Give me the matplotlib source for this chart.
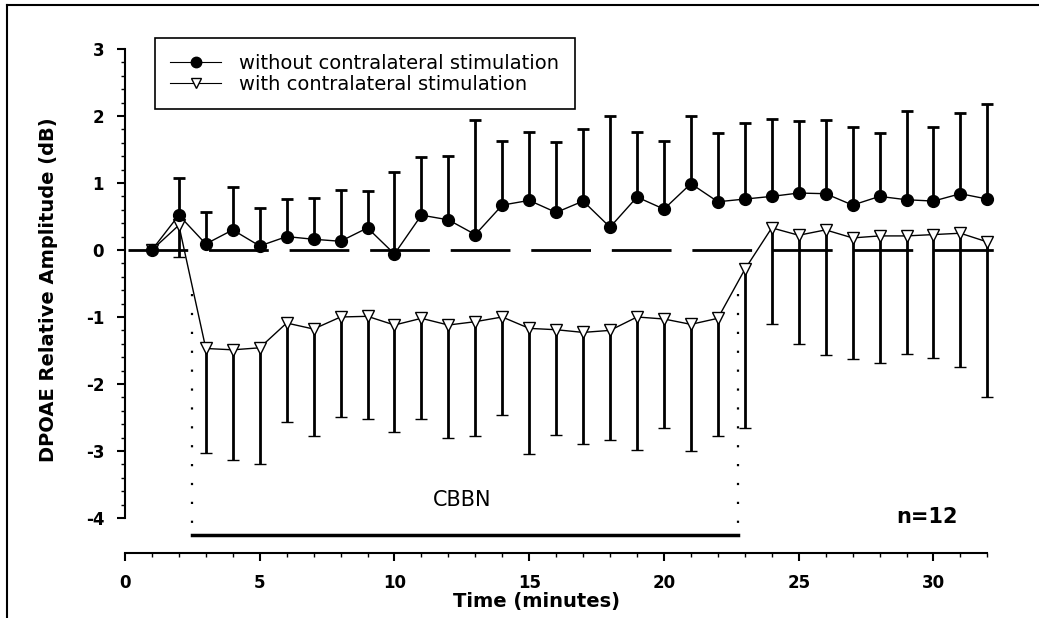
import numpy as np
import matplotlib.pyplot as plt
from matplotlib.lines import Line2D
from matplotlib.ticker import FixedLocator

plt.rcParams['axes.unicode_minus'] = False

# time points (minutes)
minutes = np.arange(1, 33)

# without contralateral stimulation: mean and top of error bar (dB)
amp_without = [0.00, 0.52, 0.09, 0.30, 0.06, 0.20, 0.16, 0.13, 0.33, -0.06,
               0.52, 0.45, 0.23, 0.67, 0.74, 0.56, 0.73, 0.34, 0.79, 0.61,
               0.99, 0.72, 0.76, 0.80, 0.85, 0.84, 0.67, 0.80, 0.75, 0.73,
               0.84, 0.76]
top_without = [0.00, 1.08, 0.56, 0.94, 0.63, 0.76, 0.78, 0.90, 0.88, 1.17,
               1.39, 1.41, 1.94, 1.62, 1.76, 1.61, 1.80, 2.00, 1.76, 1.62,
               2.00, 1.75, 1.90, 1.95, 1.93, 1.94, 1.83, 1.75, 2.08, 1.84,
               2.05, 2.18]

# with contralateral stimulation: mean and bottom of error bar (dB)
amp_with = [0.00, 0.37, -1.47, -1.49, -1.46, -1.09, -1.18, -1.00, -0.99, -1.12,
            -1.02, -1.12, -1.07, -1.00, -1.17, -1.19, -1.23, -1.20, -1.00, -1.03,
            -1.11, -1.02, -0.29, 0.33, 0.22, 0.30, 0.18, 0.21, 0.21, 0.23,
            0.25, 0.12]
bottom_with = [0.00, -0.10, -3.03, -3.13, -3.19, -2.57, -2.77, -2.49, -2.53, -2.72,
               -2.52, -2.81, -2.78, -2.46, -3.05, -2.76, -2.90, -2.83, -2.99, -2.66,
               -3.00, -2.77, -2.65, -1.11, -1.40, -1.56, -1.63, -1.68, -1.55, -1.61,
               -1.75, -2.19]

labels = ['without contralateral stimulation', 'with contralateral stimulation']

# CBBN noise period
stim_start, stim_end = 2.5, 22.75
stim_level = -4.25

fig = plt.figure(figsize=(10.39, 6.18), dpi=100)
ax = fig.add_axes([0.1073, 0.0751, 0.8819, 0.889])
ax.set_xlim(-0.5, 33.5)
ax.set_ylim(-4.8, 3.4)

# zero reference line
ax.plot([0.1, 32.8], [0, 0], color='black', lw=2, dashes=(21.5, 7.5), zorder=1)

aw = np.array(amp_without)
eb1 = ax.errorbar(minutes, aw, yerr=[np.zeros_like(aw), np.array(top_without) - aw],
                  fmt='-o', color='black', ms=8.5, lw=1, elinewidth=2,
                  capsize=4.3, capthick=2, zorder=3)
eb1[1][0].set_visible(False)

ab = np.array(amp_with)
eb2 = ax.errorbar(minutes, ab, yerr=[ab - np.array(bottom_with), np.zeros_like(ab)],
                  fmt='-v', color='black', mfc='white', mec='black', mew=1,
                  ms=8, lw=1, elinewidth=2, capsize=4.3, capthick=2, zorder=2)
eb2[1][1].set_visible(False)

# stimulus period markers
for xs in (stim_start, stim_end):
    ax.plot([xs, xs], [-0.65, stim_level], color='black', lw=1.6,
            dashes=(1, 7.5), zorder=1)
ax.plot([stim_start, stim_end], [stim_level, stim_level], color='black', lw=2.5)
ax.text(12.5, -3.73, 'CBBN', fontsize=15, ha='center', va='center')
ax.text(29.75, -3.98, 'n=12', fontsize=15, fontweight='bold', ha='center', va='center')

h1 = Line2D([], [], color='black', lw=0.8, marker='o', ms=7.5)
h2 = Line2D([], [], color='black', lw=0.8, marker='v', ms=7, mfc='white', mec='black')
leg = ax.legend([h1, h2], labels, loc='upper left', bbox_to_anchor=(1.11, 3.16),
                bbox_transform=ax.transData, fancybox=False, edgecolor='black',
                framealpha=1, fontsize=14, handlelength=2.6, handletextpad=0.95,
                borderpad=0.8, labelspacing=0.1, borderaxespad=0)
leg.get_frame().set_linewidth(1.2)

# detached axes
for s in ['top', 'right']:
    ax.spines[s].set_visible(False)
ax.spines['left'].set_position(('data', 0))
ax.spines['left'].set_bounds(-4, 3)
ax.spines['bottom'].set_position(('data', -4.52))
ax.spines['bottom'].set_bounds(0, 32)
for s in ['left', 'bottom']:
    ax.spines[s].set_linewidth(1.5)

ax.set_xticks(range(0, 31, 5))
ax.xaxis.set_minor_locator(FixedLocator(range(0, 33)))
ax.set_yticks(range(-4, 4))
ax.yaxis.set_minor_locator(FixedLocator(np.round(np.arange(-4, 3.01, 0.2), 1)))
ax.tick_params(which='major', length=6, width=1.5, labelsize=12, pad=9)
ax.tick_params(which='minor', length=3, width=1)
for lab in ax.get_xticklabels() + ax.get_yticklabels():
    lab.set_fontweight('bold')

ax.set_xlabel('Time (minutes)', fontsize=14, fontweight='bold')
ax.set_ylabel('DPOAE Relative Amplitude (dB)', fontsize=14, fontweight='bold')
ax.xaxis.set_label_coords(0.464, -0.037)
ax.yaxis.set_label_coords(-0.058, 0.513)

# outer frame of the scan
fig.add_artist(Line2D([0.0067, 0.0067], [0, 0.992], transform=fig.transFigure,
                      color='black', lw=1.5))
fig.add_artist(Line2D([0.0067, 1], [0.992, 0.992], transform=fig.transFigure,
                      color='black', lw=1.5))

fig.savefig('out.png', dpi=100)
